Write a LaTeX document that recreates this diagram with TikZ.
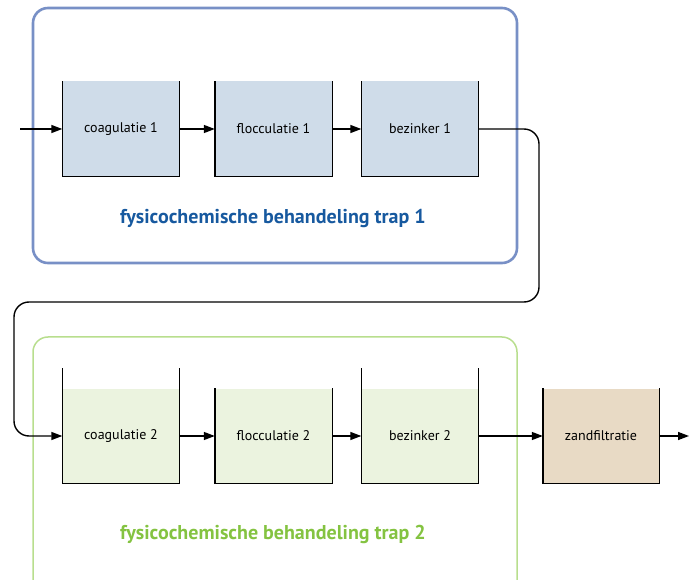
\documentclass[tikz,border=0pt]{standalone}
\usepackage{fontspec}
\setmainfont{PT Sans}
\usetikzlibrary{arrows.meta}
\definecolor{blauwvak}{HTML}{CFDCE9}
\definecolor{groenvak}{HTML}{EBF3DF}
\definecolor{zandvak}{HTML}{E8DAC5}
\definecolor{blauwrand}{HTML}{7890C6}
\definecolor{groenrand}{HTML}{B8DE8E}
\definecolor{blauwtekst}{HTML}{17599F}
\definecolor{groentekst}{HTML}{84C341}
\tikzset{
  tank/.style={rectangle, inner sep=0pt, minimum width=117, minimum height=95, font=\fontsize{14}{16}\selectfont},
  wand/.style={line width=1.4pt, line join=miter},
  pijl/.style={line width=1.4pt, ->},
  kop/.style={font=\fontsize{20}{24}\selectfont\bfseries},
}
\begin{document}
\begin{tikzpicture}[x=1pt, y=-1pt, >={Triangle[length=11pt,width=8pt]}]
	\useasboundingbox (0,0) rectangle (694,580);
	\clip (0,0) rectangle (694,580);
	% kaders
	\draw[blauwrand, line width=2.6pt, rounded corners=15] (33,8) rectangle (517,263);
	\draw[groenrand, line width=1.5pt, rounded corners=15] (33,337) rectangle (517,600);
	% trap 1
	\node[tank, fill=blauwvak] (c1) at (121,129) {coagulatie 1};
	\node[tank, fill=blauwvak] (f1) at (273.5,129) {flocculatie 1};
	\node[tank, fill=blauwvak] (b1) at (420,129) {bezinker 1};
	% trap 2
	\node[tank, fill=groenvak] (c2) at (121,436) {coagulatie 2};
	\node[tank, fill=groenvak] (f2) at (273.5,436) {flocculatie 2};
	\node[tank, fill=groenvak] (b2) at (420,436) {bezinker 2};
	\node[tank, fill=zandvak, minimum width=116] (zf) at (601,436) {zandfiltratie};
	% wanden
	\foreach \t in {c1,f1,b1,f2,zf}
		\draw[wand] (\t.north west) |- (\t.south east) -- (\t.north east);
	\foreach \t in {c2,b2}
		\draw[wand] ([yshift=20pt]\t.north west) |- (\t.south east) -- ([yshift=20pt]\t.north east);
	\node[kop, text=blauwtekst] (k1) at (273,219) {fysicochemische behandeling trap 1};
	\node[kop, text=groentekst] (k2) at (273,534) {fysicochemische behandeling trap 2};
	% stroming
	\coordinate (in) at (20,129);
	\coordinate (uit) at (689,436);
	\coordinate (bochtr) at (539,302);
	\coordinate (bochtl) at (14,302);
	\draw[pijl] (in) -- (c1);
	\draw[pijl] (c1) -- (f1);
	\draw[pijl] (f1) -- (b1);
	\draw[pijl, rounded corners=15] (b1.east) -| (bochtr) -- (bochtl) |- (c2.west);
	\draw[pijl] (c2) -- (f2);
	\draw[pijl] (f2) -- (b2);
	\draw[pijl] (b2) -- (zf);
	\draw[pijl] (zf) -- (uit);
\end{tikzpicture}
\end{document}
